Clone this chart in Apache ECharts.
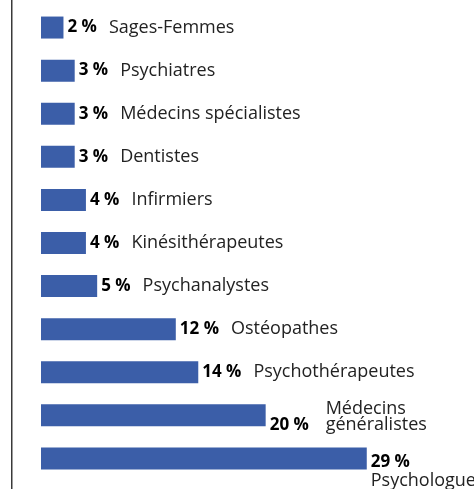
<!DOCTYPE html>
<html>
<head>
<meta charset="utf-8">
<script src="https://cdn.jsdelivr.net/npm/echarts@6/dist/echarts.min.js"></script>
<style>
  html, body { margin: 0; padding: 0; background: #fff; }
  #chart { width: 474px; height: 489px; }
</style>
</head>
<body>
<div id="chart"></div>
<script>
const categories = [
  'Sages-Femmes', 'Psychiatres', 'Médecins spécialistes', 'Dentistes',
  'Infirmiers', 'Kinésithérapeutes', 'Psychanalystes', 'Ostéopathes',
  'Psychothérapeutes', 'Médecins généralistes', 'Psychologue'
]
const values = [2, 3, 3, 3, 4, 4, 5, 12, 14, 20, 29]

const font = '"Open Sans", sans-serif'

function labelText(params) {
  const v = params.value + ' %'
  const name = params.name
  if (name === 'Médecins généralistes') {
    return '{gap|}{n2|Médecins}\n{vw|' + v + '}{n2|généralistes}'
  }
  if (name === 'Psychologue') {
    return '{v|' + v + '}\n{np|' + name + '}'
  }
  return '{v|' + v + '}{n|' + name + '}'
}

const chart = echarts.init(document.getElementById('chart'))
chart.setOption({
  animation: false,
  grid: { left: 41, right: 96, top: 6, bottom: 9 },
  xAxis: {
    type: 'value',
    min: 0,
    max: 30,
    show: false
  },
  yAxis: {
    type: 'category',
    inverse: true,
    data: categories,
    show: false
  },
  graphic: [{
    type: 'rect',
    left: 11,
    top: 0,
    shape: { width: 1.5, height: 489 },
    style: { fill: '#3a3a3a' }
  }],
  series: [{
    type: 'bar',
    data: values.map((v, i) => {
      const item = { value: v }
      if (categories[i] === 'Psychologue') {
        item.label = { offset: [0, 13] }
      } else if (categories[i] === 'Médecins généralistes') {
        item.label = { offset: [0, 2] }
      }
      return item
    }),
    barWidth: 22,
    itemStyle: { color: '#3b5ea8' },
    label: {
      show: true,
      position: 'right',
      distance: 4,
      formatter: labelText,
      rich: {
        v: { fontFamily: font, fontWeight: 'bold', fontSize: 17, color: '#000', padding: [0, 12, 0, 0], lineHeight: 18 },
        vw: { fontFamily: font, fontWeight: 'bold', fontSize: 17, color: '#000', width: 56, lineHeight: 16 },
        gap: { width: 56, lineHeight: 16 },
        n: { fontFamily: font, fontSize: 18, color: '#222', lineHeight: 18 },
        n2: { fontFamily: font, fontSize: 18, color: '#222', lineHeight: 16 },
        np: { fontFamily: font, fontSize: 18, color: '#222', lineHeight: 18 }
      }
    }
  }]
})
</script>
</body>
</html>
